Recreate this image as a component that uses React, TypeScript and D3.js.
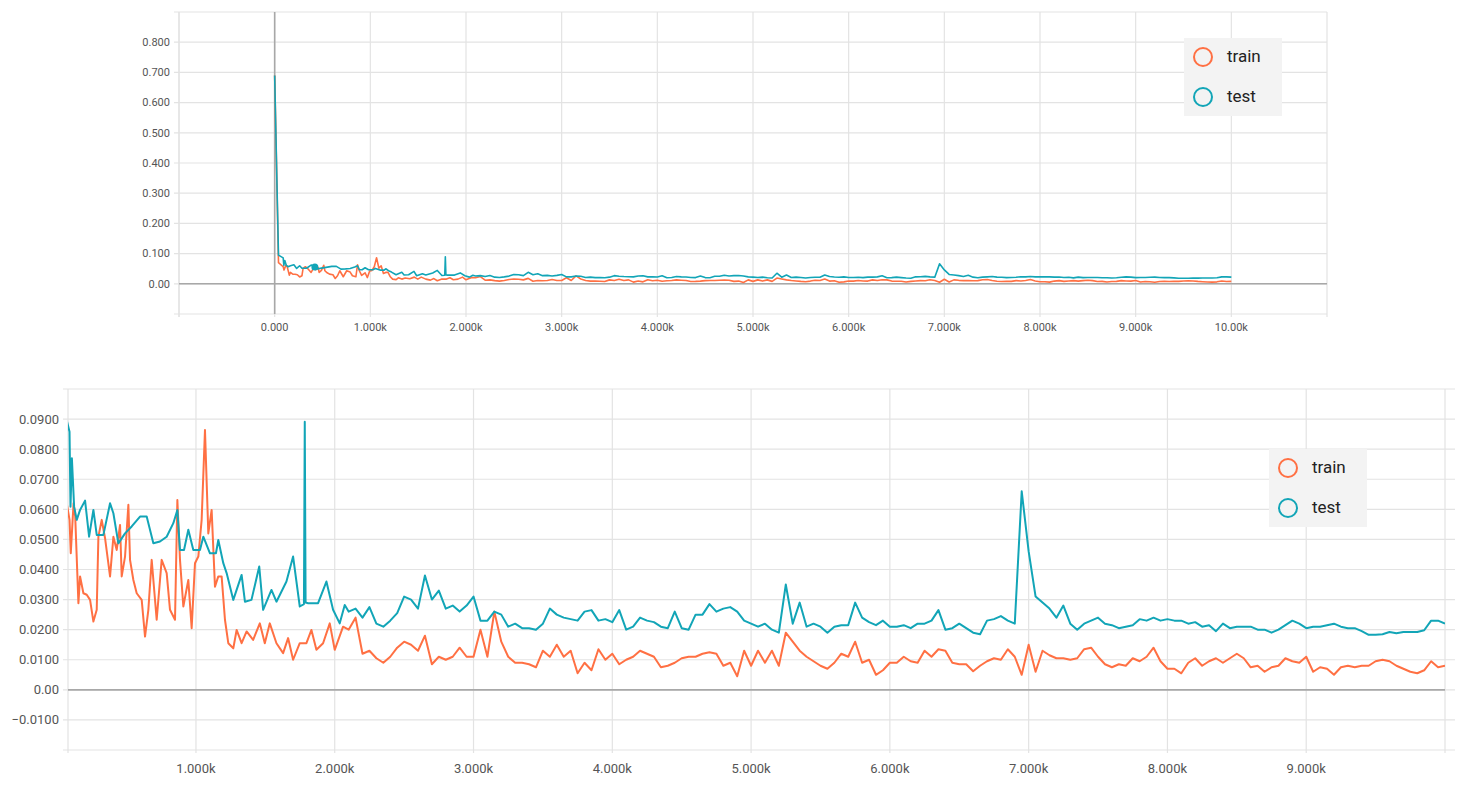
import { useEffect, useRef } from "react";
import * as d3 from "d3";

// first ~2k steps, read point by point
const trainEarlySteps = [
  0, 40, 89, 98, 118, 130, 153, 165, 189, 213, 237, 261, 285, 297, 321, 345,
  381, 405, 429, 453, 465, 489, 513, 525, 549, 573, 609, 633, 657, 681, 717,
  753, 789, 813, 849, 866, 885, 909, 945, 969, 993, 1017, 1041, 1065, 1089,
  1113, 1137, 1161, 1185, 1209, 1233, 1269, 1293, 1329, 1365, 1412, 1460,
  1496, 1532, 1580, 1628, 1664, 1700, 1748, 1796, 1832, 1868, 1916, 1964,
  2000, 2060,
];
const trainEarlyLoss = [
  0.69, 0.070, 0.0565, 0.0454, 0.0620, 0.0576, 0.0288, 0.0377, 0.0321, 0.0316,
  0.0299, 0.0227, 0.0266, 0.0509, 0.0565, 0.0504, 0.0377, 0.0509, 0.0465,
  0.0548, 0.0377, 0.0443, 0.0615, 0.0432, 0.0365, 0.0321, 0.0299, 0.0177,
  0.0266, 0.0432, 0.0233, 0.0432, 0.0388, 0.0266, 0.0233, 0.0631, 0.0432,
  0.0277, 0.0365, 0.0205, 0.0421, 0.0443, 0.0565, 0.0864, 0.0520, 0.0598,
  0.0343, 0.0377, 0.0377, 0.0233, 0.0155, 0.0138, 0.0199, 0.0155, 0.0194,
  0.0166, 0.0221, 0.0155, 0.0221, 0.0155, 0.0122, 0.0172, 0.0100, 0.0155,
  0.0155, 0.0199, 0.0133, 0.0155, 0.0221, 0.0133, 0.0210,
];

const testEarlySteps = [
  0, 40, 89, 96, 106, 122, 141, 165, 201, 230, 261, 285, 333, 381, 405, 441,
  489, 537, 597, 645, 693, 741, 789, 837, 866, 885, 914, 945, 981, 1029, 1053,
  1101, 1144, 1161, 1197, 1221, 1269, 1329, 1353, 1400, 1456, 1484, 1544,
  1580, 1652, 1700, 1748, 1778, 1784, 1790, 1808, 1880, 1940, 1988, 2036,
  2072,
];
const testEarlyLoss = [
  0.69, 0.095, 0.0858, 0.0609, 0.0770, 0.0609, 0.0565, 0.0598, 0.0629, 0.0509,
  0.0598, 0.0515, 0.0515, 0.0620, 0.0587, 0.0487, 0.0520, 0.0543, 0.0576,
  0.0576, 0.0487, 0.0493, 0.0509, 0.0554, 0.0598, 0.0465, 0.0465, 0.0532,
  0.0465, 0.0465, 0.0509, 0.0454, 0.0454, 0.0498, 0.0421, 0.0388, 0.0299,
  0.0382, 0.0293, 0.0299, 0.0410, 0.0266, 0.0332, 0.0293, 0.0360, 0.0443,
  0.0277, 0.0285, 0.0891, 0.0290, 0.0288, 0.0288, 0.0360, 0.0266, 0.0221,
  0.0282,
];

// rest of the run, every 50 steps
const lateSteps = d3.range(2100, 10001, 50);

const trainLateLoss = [
  0.020, 0.024, 0.012, 0.013, 0.0105, 0.009, 0.011, 0.014,
  0.016, 0.015, 0.013, 0.018, 0.0085, 0.011, 0.010, 0.011, 0.014, 0.011,
  0.011, 0.020, 0.011, 0.026, 0.016, 0.011, 0.009, 0.009, 0.0085, 0.0075,
  0.013, 0.011, 0.015, 0.011, 0.013, 0.0055, 0.009, 0.0065, 0.0135, 0.010,
  0.012, 0.0085, 0.010, 0.011, 0.013, 0.012, 0.011, 0.0075, 0.008, 0.009,
  0.0105, 0.011, 0.011, 0.012, 0.0125, 0.012, 0.008, 0.009, 0.0045, 0.013,
  0.008, 0.013, 0.009, 0.013, 0.008, 0.019, 0.016, 0.013, 0.011, 0.0095,
  0.008, 0.007, 0.009, 0.012, 0.011, 0.016, 0.009, 0.010, 0.005, 0.0065,
  0.009, 0.009, 0.011, 0.0095, 0.009, 0.013, 0.011, 0.0135, 0.013, 0.009,
  0.0085, 0.0085, 0.0062, 0.008, 0.0095, 0.0105, 0.010, 0.0135, 0.011, 0.005,
  0.015, 0.006, 0.013, 0.0115, 0.0105, 0.0105, 0.010, 0.0105, 0.0135, 0.014,
  0.011, 0.0085, 0.0075, 0.0085, 0.008, 0.0105, 0.0095, 0.011, 0.014, 0.0095,
  0.007, 0.007, 0.0055, 0.009, 0.0105, 0.008, 0.0095, 0.0105, 0.009, 0.0105,
  0.012, 0.0105, 0.0075, 0.008, 0.006, 0.0075, 0.008, 0.0105, 0.0095, 0.009,
  0.011, 0.006, 0.0075, 0.007, 0.005, 0.0075, 0.008, 0.0075, 0.008, 0.008,
  0.0095, 0.010, 0.0095, 0.008, 0.007, 0.006, 0.0055, 0.0065, 0.0095, 0.0075,
  0.008,
];

const testLateLoss = [
  0.026, 0.027, 0.024, 0.0275, 0.022, 0.021, 0.023, 0.0255,
  0.031, 0.030, 0.027, 0.038, 0.030, 0.033, 0.027, 0.028, 0.026, 0.028,
  0.031, 0.023, 0.023, 0.026, 0.025, 0.021, 0.022, 0.0205, 0.0205, 0.020,
  0.022, 0.027, 0.025, 0.024, 0.0235, 0.023, 0.026, 0.0265, 0.023, 0.0235,
  0.0225, 0.0265, 0.020, 0.021, 0.024, 0.023, 0.0225, 0.021, 0.0205, 0.026,
  0.0205, 0.020, 0.025, 0.025, 0.0285, 0.026, 0.027, 0.0275, 0.026, 0.023,
  0.022, 0.021, 0.022, 0.020, 0.019, 0.035, 0.022, 0.029, 0.021, 0.022,
  0.021, 0.019, 0.021, 0.0215, 0.0215, 0.029, 0.024, 0.0225, 0.0215, 0.023,
  0.021, 0.021, 0.0215, 0.0205, 0.022, 0.022, 0.023, 0.0265, 0.020, 0.0205,
  0.022, 0.0205, 0.019, 0.0185, 0.023, 0.0235, 0.0245, 0.023, 0.022, 0.066,
  0.046, 0.031, 0.029, 0.027, 0.024, 0.028, 0.022, 0.020, 0.022, 0.023,
  0.024, 0.022, 0.0215, 0.0205, 0.021, 0.0215, 0.0235, 0.023, 0.024, 0.023,
  0.0235, 0.023, 0.023, 0.022, 0.0225, 0.021, 0.0215, 0.0195, 0.022, 0.0205,
  0.021, 0.021, 0.021, 0.020, 0.020, 0.019, 0.020, 0.0215, 0.023, 0.022,
  0.0205, 0.021, 0.021, 0.0215, 0.022, 0.021, 0.0205, 0.0205, 0.0195, 0.0183,
  0.0183, 0.0185, 0.0192, 0.0188, 0.0192, 0.0192, 0.0192, 0.0198, 0.023, 0.023,
  0.022,
];

const seriesNames = ["train", "test"];
const seriesColors = ["#ff7043", "#12a5b7"];

const topXTicks = d3.range(0, 10001, 1000);
const topXGrid = d3.range(-1000, 11001, 1000);
const topYTicks = [0, 0.1, 0.2, 0.3, 0.4, 0.5, 0.6, 0.7, 0.8];
const topYGrid = [-0.1, 0, 0.1, 0.2, 0.3, 0.4, 0.5, 0.6, 0.7, 0.8, 0.9];

const bottomXTicks = d3.range(1000, 9001, 1000);
const bottomXGrid = d3.range(1000, 10001, 1000);
const bottomYTicks = [-0.01, 0, 0.01, 0.02, 0.03, 0.04, 0.05, 0.06, 0.07, 0.08, 0.09];
const bottomYGrid = [-0.02, -0.01, 0, 0.01, 0.02, 0.03, 0.04, 0.05, 0.06, 0.07, 0.08, 0.09, 0.1];

// marker left on the upper chart
const hoverPoint = { step: 420, value: 0.056 };

const App = () => {
  const ref = useRef(null);

  useEffect(() => {
    const svg = d3.select(ref.current);
    svg.selectAll("*").remove();

    const xFmt = d3.format(".4r");

    const toPoints = (stepsA, lossA, stepsB, lossB) =>
      stepsA.map((s, i) => [s, lossA[i]]).concat(stepsB.map((s, i) => [s, lossB[i]]));

    const series = [
      toPoints(trainEarlySteps, trainEarlyLoss, lateSteps, trainLateLoss),
      toPoints(testEarlySteps, testEarlyLoss, lateSteps, testLateLoss),
    ];

    const drawPanel = (cfg, id) => {
      const x = d3.scaleLinear().domain(cfg.xDomain).range([cfg.left, cfg.right]);
      const y = d3.scaleLinear().domain(cfg.yDomain).range([cfg.bottom, cfg.top]);
      const g = svg.append("g");

      g.append("clipPath")
        .attr("id", id)
        .append("rect")
        .attr("x", cfg.left)
        .attr("y", cfg.top)
        .attr("width", cfg.right - cfg.left)
        .attr("height", cfg.bottom - cfg.top);

      // horizontal grid
      g.selectAll(".hgrid")
        .data(cfg.yGrid)
        .enter()
        .append("line")
        .attr("x1", cfg.left - 5)
        .attr("x2", cfg.right + cfg.gridOver)
        .attr("y1", d => y(d))
        .attr("y2", d => y(d))
        .attr("stroke", "#e3e3e3")
        .attr("stroke-width", 1.2);

      // vertical grid + left border
      g.selectAll(".vgrid")
        .data(cfg.xGrid)
        .enter()
        .append("line")
        .attr("x1", d => x(d))
        .attr("x2", d => x(d))
        .attr("y1", cfg.top)
        .attr("y2", cfg.bottom + 3)
        .attr("stroke", "#e3e3e3")
        .attr("stroke-width", 1.2);
      g.append("line")
        .attr("x1", cfg.left).attr("x2", cfg.left)
        .attr("y1", cfg.top).attr("y2", cfg.bottom + 3)
        .attr("stroke", "#e3e3e3").attr("stroke-width", 1.2);

      // zero lines
      g.append("line")
        .attr("x1", cfg.left).attr("x2", cfg.right)
        .attr("y1", y(0)).attr("y2", y(0))
        .attr("stroke", "#a8a8a8").attr("stroke-width", 1.6);
      if (cfg.xDomain[0] < 0) {
        g.append("line")
          .attr("x1", x(0)).attr("x2", x(0))
          .attr("y1", cfg.top).attr("y2", cfg.bottom)
          .attr("stroke", "#a8a8a8").attr("stroke-width", 1.6);
      }

      // tick labels
      g.selectAll(".ylab")
        .data(cfg.yTicks)
        .enter()
        .append("text")
        .attr("x", cfg.left - 9)
        .attr("y", d => y(d))
        .attr("dy", "0.35em")
        .attr("text-anchor", "end")
        .attr("fill", "#555")
        .attr("font-family", "Roboto, sans-serif")
        .attr("font-size", cfg.fontSize)
        .text(d => (d === 0 ? "0.00" : d3.format(cfg.yFormat)(d)));

      g.selectAll(".xlab")
        .data(cfg.xTicks)
        .enter()
        .append("text")
        .attr("x", d => x(d))
        .attr("y", cfg.bottom + cfg.xLabelOffset)
        .attr("dy", "0.35em")
        .attr("text-anchor", "middle")
        .attr("fill", "#555")
        .attr("font-family", "Roboto, sans-serif")
        .attr("font-size", cfg.fontSize)
        .text(d => (d === 0 ? "0.000" : xFmt(d / 1000) + "k"));

      // series
      const plot = g.append("g").attr("clip-path", `url(#${id})`);
      const line = d3.line()
        .x(d => x(d[0]))
        .y(d => y(d[1]));
      series.forEach((pts, i) => {
        plot.append("path")
          .datum(pts)
          .attr("fill", "none")
          .attr("stroke", seriesColors[i])
          .attr("stroke-width", cfg.lineWidth)
          .attr("stroke-linejoin", "round")
          .attr("d", line);
      });

      if (cfg.marker) {
        plot.append("circle")
          .attr("cx", x(hoverPoint.step))
          .attr("cy", y(hoverPoint.value))
          .attr("r", 3.5)
          .attr("fill", seriesColors[1]);
      }

      // legend
      const lg = g.append("g");
      lg.append("rect")
        .attr("x", cfg.legendX)
        .attr("y", cfg.legendY)
        .attr("width", 98)
        .attr("height", 78)
        .attr("fill", "#f3f3f3");
      seriesNames.forEach((name, i) => {
        lg.append("circle")
          .attr("cx", cfg.legendX + 19)
          .attr("cy", cfg.legendY + 19 + i * 40)
          .attr("r", 9)
          .attr("fill", "none")
          .attr("stroke", seriesColors[i])
          .attr("stroke-width", 2);
        lg.append("text")
          .attr("x", cfg.legendX + 43)
          .attr("y", cfg.legendY + 19 + i * 40)
          .attr("dy", "0.32em")
          .attr("fill", "#222")
          .attr("font-family", "Roboto, sans-serif")
          .attr("font-size", "17px")
          .text(name);
      });
    };

    drawPanel({
      left: 179, right: 1327, top: 12, bottom: 314,
      xDomain: [-1000, 11000], yDomain: [-0.1, 0.9],
      xGrid: topXGrid, yGrid: topYGrid, xTicks: topXTicks, yTicks: topYTicks,
      yFormat: ".3f", fontSize: "11px", xLabelOffset: 13, lineWidth: 1.6,
      gridOver: 0, legendX: 1184, legendY: 38, marker: true,
    }, "clip-top");

    drawPanel({
      left: 68, right: 1445, top: 389, bottom: 750,
      xDomain: [78, 10000], yDomain: [-0.02, 0.1],
      xGrid: bottomXGrid, yGrid: bottomYGrid, xTicks: bottomXTicks, yTicks: bottomYTicks,
      yFormat: ".4f", fontSize: "13px", xLabelOffset: 18, lineWidth: 2,
      gridOver: 10, legendX: 1269, legendY: 449, marker: false,
    }, "clip-bottom");
  }, []);

  return (
    <svg
      ref={ref}
      width={1472}
      height={787}
      style={{ position: "absolute", left: 0, top: 0, background: "#fff" }}
    />
  );
};

export default App;
